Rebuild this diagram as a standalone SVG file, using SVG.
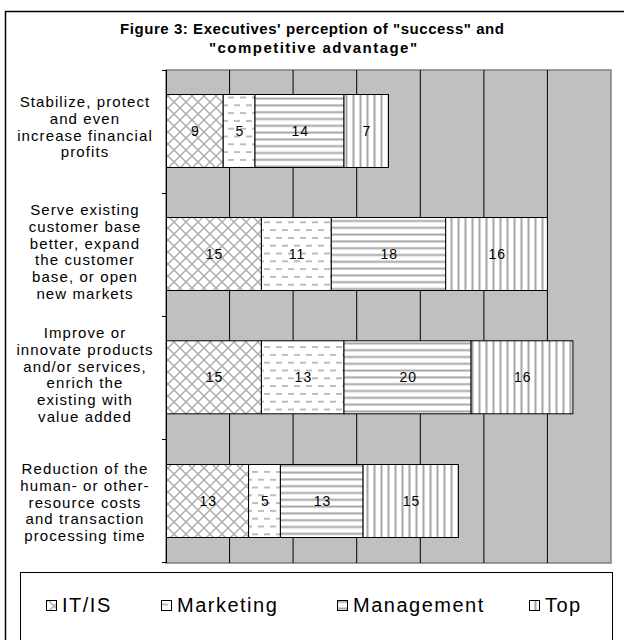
<svg xmlns="http://www.w3.org/2000/svg" width="624" height="640" viewBox="0 0 624 640">
  <defs>
    <!-- IT/IS: diagonal crosshatch -->
    <pattern id="pat-it" patternUnits="userSpaceOnUse" width="12" height="12">
      <rect width="12" height="12" fill="#ffffff"/>
      <path d="M0,0 L12,12 M12,0 L0,12" stroke="#ababab" stroke-width="1.4" fill="none"/>
    </pattern>
    <!-- Marketing: staggered dashes -->
    <pattern id="pat-mkt" patternUnits="userSpaceOnUse" width="12" height="15.6">
      <rect width="12" height="15.6" fill="#ffffff"/>
      <path d="M0,3.9 H6 M6,11.7 H12" stroke="#a6a6a6" stroke-width="1.5" fill="none"/>
    </pattern>
    <!-- Management: horizontal lines -->
    <pattern id="pat-mgmt" patternUnits="userSpaceOnUse" width="8" height="6.8">
      <rect width="8" height="6.8" fill="#ffffff"/>
      <path d="M0,3.4 H8" stroke="#a6a6a6" stroke-width="2" fill="none"/>
    </pattern>
    <!-- Top: vertical lines -->
    <pattern id="pat-top" patternUnits="userSpaceOnUse" width="7" height="8">
      <rect width="7" height="8" fill="#ffffff"/>
      <path d="M3.5,0 V8" stroke="#a6a6a6" stroke-width="2" fill="none"/>
    </pattern>
  </defs>
  <style>
    .title { font-family: "Liberation Sans", Arial, sans-serif; font-weight: bold; font-size: 15px; fill: #000; text-anchor: middle; }
    .cat { font-family: "Liberation Sans", Arial, sans-serif; font-size: 15px; letter-spacing: 1.1px; fill: #000; text-anchor: middle; }
    .val { font-family: "Liberation Sans", Arial, sans-serif; font-size: 14px; letter-spacing: 1px; fill: #000; text-anchor: middle; }
    .leg { font-family: "Liberation Sans", Arial, sans-serif; font-size: 20px; letter-spacing: 1.5px; fill: #000; }
    .seg { stroke: #000; stroke-width: 1; }
    .grid { stroke: #000; stroke-width: 1; }
    .it { fill: url(#pat-it); }
    .mkt { fill: url(#pat-mkt); }
    .mgmt { fill: url(#pat-mgmt); }
    .top { fill: url(#pat-top); }
  </style>

  <rect width="624" height="640" fill="#ffffff"/>

  <!-- chart frame -->
  <rect x="5.5" y="11.5" width="700" height="700" fill="none" stroke="#000" stroke-width="1.5"/>

  <!-- title -->
  <g id="title">
    <text class="title" x="312" y="34" textLength="384">Figure 3: Executives' perception of "success" and</text>
    <text class="title" x="313" y="53" textLength="208">"competitive advantage"</text>
  </g>

  <!-- plot area with value gridlines -->
  <g id="plot-area">
    <rect x="166" y="70" width="445" height="493" fill="#c0c0c0" stroke="#808080" stroke-width="1.5"/>
    <path class="grid" d="M229.6,70 V563 M293.1,70 V563 M356.7,70 V563 M420.3,70 V563 M483.9,70 V563 M547.4,70 V563"/>
    <path class="grid" d="M166.5,70 V563 M162,70.5 H166 M162,193.5 H166 M162,316.5 H166 M162,439.5 H166 M162,562.5 H166"/>
  </g>

  <!-- stacked bars -->
  <g id="bar-financial">
    <rect class="seg it" x="166.5" y="94.5" width="56.7" height="73"/>
    <rect class="seg mkt" x="223.2" y="94.5" width="31.8" height="73"/>
    <rect class="seg mgmt" x="255" y="94.5" width="89" height="73"/>
    <rect class="seg top" x="344" y="94.5" width="44.5" height="73"/>
    <text class="val" x="195.5" y="136">9</text>
    <text class="val" x="239.9" y="136">5</text>
    <text class="val" x="300.3" y="136">14</text>
    <text class="val" x="367" y="136">7</text>
  </g>

  <g id="bar-customers">
    <rect class="seg it" x="166.5" y="217.5" width="94.9" height="73"/>
    <rect class="seg mkt" x="261.4" y="217.5" width="69.9" height="73"/>
    <rect class="seg mgmt" x="331.3" y="217.5" width="114.4" height="73"/>
    <rect class="seg top" x="445.7" y="217.5" width="101.7" height="73"/>
    <text class="val" x="214.5" y="259">15</text>
    <text class="val" x="297" y="259">11</text>
    <text class="val" x="389.3" y="259">18</text>
    <text class="val" x="497.3" y="259">16</text>
  </g>

  <g id="bar-products">
    <rect class="seg it" x="166.5" y="340.8" width="94.9" height="73"/>
    <rect class="seg mkt" x="261.4" y="340.8" width="82.6" height="73"/>
    <rect class="seg mgmt" x="344" y="340.8" width="127.1" height="73"/>
    <rect class="seg top" x="471.1" y="340.8" width="101.8" height="73"/>
    <text class="val" x="214.5" y="382.3">15</text>
    <text class="val" x="303.4" y="382.3">13</text>
    <text class="val" x="408.3" y="382.3">20</text>
    <text class="val" x="522.8" y="382.3">16</text>
  </g>

  <g id="bar-costs">
    <rect class="seg it" x="166.5" y="464.5" width="82.1" height="73"/>
    <rect class="seg mkt" x="248.6" y="464.5" width="31.8" height="73"/>
    <rect class="seg mgmt" x="280.4" y="464.5" width="82.7" height="73"/>
    <rect class="seg top" x="363.1" y="464.5" width="95.3" height="73"/>
    <text class="val" x="208.3" y="506">13</text>
    <text class="val" x="265.3" y="506">5</text>
    <text class="val" x="322.5" y="506">13</text>
    <text class="val" x="411.5" y="506">15</text>
  </g>

  <!-- category labels -->
  <g id="label-financial">
    <text class="cat" x="85" y="107">Stabilize, protect</text>
    <text class="cat" x="85" y="123.8">and even</text>
    <text class="cat" x="85" y="140.6">increase financial</text>
    <text class="cat" x="85" y="157.4">profits</text>
  </g>
  <g id="label-customers">
    <text class="cat" x="85" y="215">Serve existing</text>
    <text class="cat" x="85" y="231.8">customer base</text>
    <text class="cat" x="85" y="248.6">better, expand</text>
    <text class="cat" x="85" y="265.4">the customer</text>
    <text class="cat" x="85" y="282.2">base, or open</text>
    <text class="cat" x="85" y="299">new markets</text>
  </g>
  <g id="label-products">
    <text class="cat" x="85" y="338">Improve or</text>
    <text class="cat" x="85" y="354.8">innovate products</text>
    <text class="cat" x="85" y="371.6">and/or services,</text>
    <text class="cat" x="85" y="388.4">enrich the</text>
    <text class="cat" x="85" y="405.2">existing with</text>
    <text class="cat" x="85" y="422">value added</text>
  </g>
  <g id="label-costs">
    <text class="cat" x="85" y="474">Reduction of the</text>
    <text class="cat" x="85" y="490.8">human- or other-</text>
    <text class="cat" x="85" y="507.6">resource costs</text>
    <text class="cat" x="85" y="524.4">and transaction</text>
    <text class="cat" x="85" y="541.2">processing time</text>
  </g>

  <!-- legend -->
  <g id="legend">
    <rect x="20.5" y="572.5" width="592" height="120" fill="#ffffff" stroke="#000" stroke-width="1"/>
    <rect class="seg it" x="46.5" y="600.5" width="10" height="10"/>
    <text class="leg" x="62" y="612">IT/IS</text>
    <rect class="seg mkt" x="161.5" y="600.5" width="10" height="10"/>
    <text class="leg" x="177" y="612">Marketing</text>
    <rect class="seg mgmt" x="337.5" y="600.5" width="10" height="10"/>
    <text class="leg" x="353" y="612">Management</text>
    <rect class="seg top" x="529.5" y="600.5" width="10" height="10"/>
    <text class="leg" x="545" y="612">Top</text>
  </g>
</svg>
